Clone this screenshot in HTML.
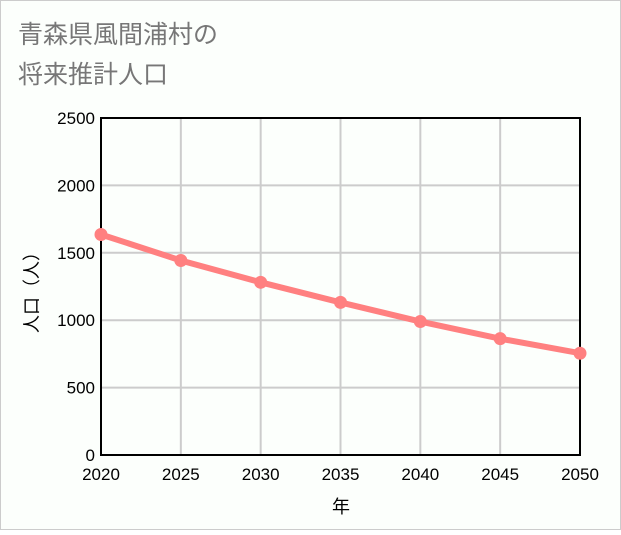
<!DOCTYPE html>
<html><head><meta charset="utf-8"><style>
body{margin:0;background:#fff}
svg text{font-family:"Liberation Sans","Noto Sans CJK JP",sans-serif}
</style></head><body>
<svg width="621" height="530" viewBox="0 0 621 530">
<rect x="0.5" y="0.5" width="620" height="529" fill="#fcfffc" stroke="#ccc"/>
<text x="18" y="43" font-size="25" fill="#777">青森県風間浦村の</text>
<text x="18" y="83" font-size="25" fill="#777">将来推計人口</text>
<g id="grid"></g>
<g id="axes"></g>
<g id="series"></g>
<text x="341" y="513" font-size="18" text-anchor="middle" fill="#000">年</text>
<text transform="translate(38,288) rotate(-90)" font-size="18" text-anchor="middle" fill="#000">人口（人）</text>
</svg>
<script>
const years=[2020,2025,2030,2035,2040,2045,2050];
const population=[1636,1443,1281,1132,990,863,755];
const yTicks=[0,500,1000,1500,2000,2500];
const NS="http://www.w3.org/2000/svg";
const L=101,R=580,T=118,B=455;
const xs=v=>L+(v-2020)/30*(R-L);
const ys=v=>B-v/2500*(B-T);
function mk(t,a,p){const e=document.createElementNS(NS,t);for(const k in a)e.setAttribute(k,a[k]);p.appendChild(e);return e;}
const g=document.getElementById('grid'),ax=document.getElementById('axes'),s=document.getElementById('series');
years.forEach(y=>{
 const l=mk('line',{x1:xs(y),x2:xs(y),y1:T,y2:B,stroke:'#ccc','stroke-width':2},g);
 
 
 const t=mk('text',{x:xs(y),y:B+25,'font-size':17,'text-anchor':'middle',fill:'#000'},ax);
 t.textContent=y;
 
 
});
yTicks.forEach(v=>{
 const l=mk('line',{x1:L,x2:R,y1:ys(v),y2:ys(v),stroke:'#ccc','stroke-width':2},g);
 
 
 const t=mk('text',{x:L-6,y:ys(v)+6,'font-size':17,'text-anchor':'end',fill:'#000'},ax);
 t.textContent=v;
 
 
});
const fr=mk('rect',{x:L,y:T,width:R-L,height:B-T,fill:'none',stroke:'#000','stroke-width':2},ax);


const pl=mk('polyline',{points:years.map((y,i)=>xs(y)+','+ys(population[i])).join(' '),fill:'none',stroke:'#ff8080','stroke-width':6},s);


years.forEach((y,i)=>{
 const c=mk('circle',{cx:xs(y),cy:ys(population[i]),r:6.5,fill:'#ff8080'},s);
 
 
});
</script>
</body></html>
